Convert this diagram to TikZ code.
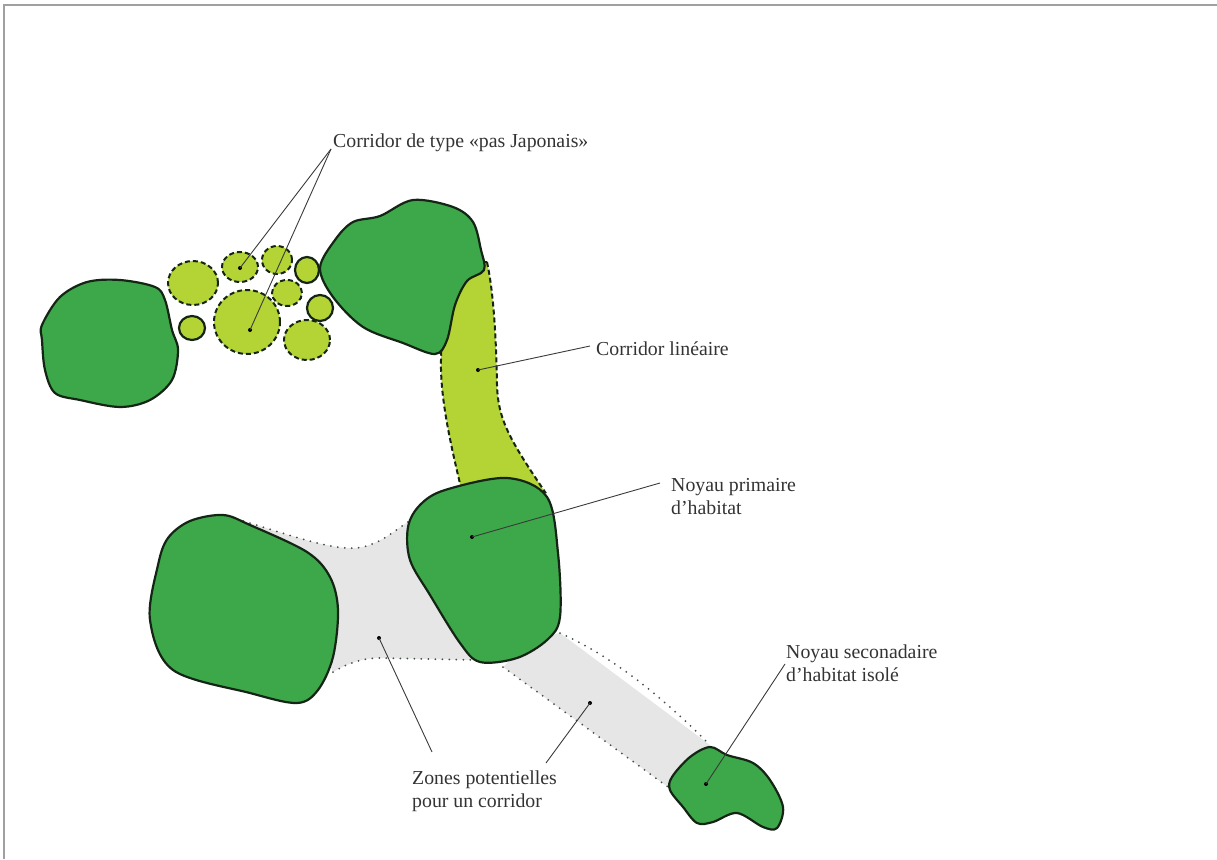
\documentclass[tikz,border=0pt]{standalone}
\usepackage{fontspec}
\setmainfont{Liberation Serif}
\definecolor{corefill}{HTML}{3DA84A}
\definecolor{stonefill}{HTML}{B4D334}
\definecolor{zonefill}{HTML}{E6E6E6}
\definecolor{edgecol}{HTML}{152515}
\definecolor{leadcol}{HTML}{3A3A3A}
\definecolor{framecol}{HTML}{A0A0A0}
\begin{document}
\begin{tikzpicture}[x=1pt,y=-1pt,
  corebox/.style={fill=corefill, draw=edgecol, line width=2.2pt, line join=round},
  stonedash/.style={fill=stonefill, draw=edgecol, line width=2pt, dash pattern=on 5pt off 3pt},
  stonesolid/.style={fill=stonefill, draw=edgecol, line width=2.2pt},
  zonearea/.style={fill=zonefill},
  zoneedge/.style={draw=edgecol!80, line width=2pt, dash pattern=on 0pt off 7pt, line cap=round},
  leader/.style={draw=leadcol, line width=0.9pt},
  dotnode/.style={circle, fill=black, inner sep=0pt, minimum size=4pt},
  lbl/.style={font=\fontsize{19.8}{23}\selectfont, text=black!80, inner sep=0pt, align=left, anchor=base west}]
\useasboundingbox (0,0) rectangle (1217,859);
% frame
\draw[framecol, line width=1.5pt] (4,859) -- (4,5) -- (1217,5);

% potential zones
\fill[zonearea] (230,517) .. controls (290,535) and (330,550) .. (357,548) .. controls (380,545) and (395,530) .. (408,522) -- (470,600) -- (475,660) -- (380,658) .. controls (360,658) and (345,665) .. (333,672) -- (300,600) -- cycle;
\fill[zonearea] (560,633) -- (710,745) -- (690,790) -- (668,787) -- (503,667) -- (530,640) -- cycle;
\draw[zoneedge] (230,517) .. controls (290,535) and (330,550) .. (357,548) .. controls (380,545) and (395,530) .. (408,522);
\draw[zoneedge] (333,672) .. controls (345,665) and (360,658) .. (380,658) -- (475,660);
\draw[zoneedge] (560,633) .. controls (620,660) and (670,705) .. (710,745);
\draw[zoneedge] (503,667) -- (668,787);

% linear corridor
\draw[stonedash] (487,262) .. controls (493,290) and (496,330) .. (497,385)
  .. controls (498,420) and (510,440) .. (545,492) -- (462,492)
  .. controls (452,450) and (440,400) .. (441,360)
  .. controls (441,340) and (445,320) .. (455,290) -- (470,262) -- cycle;

% stepping stones
\draw[stonedash] (193,283) ellipse [x radius=25pt, y radius=22pt];
\draw[stonedash] (240,267) ellipse [x radius=18pt, y radius=15pt];
\draw[stonedash] (277,260) ellipse [x radius=15pt, y radius=14pt];
\draw[stonesolid] (307,270) ellipse [x radius=12pt, y radius=13pt];
\draw[stonedash] (287,293) ellipse [x radius=15pt, y radius=13pt];
\draw[stonesolid] (320,308) ellipse [x radius=13pt, y radius=13pt];
\draw[stonesolid] (192,328) ellipse [x radius=13pt, y radius=12pt];
\draw[stonedash] (247,322) ellipse [x radius=33pt, y radius=32pt];
\draw[stonedash] (307,340) ellipse [x radius=23pt, y radius=20pt];

% cores
\draw[corebox] plot[smooth cycle, tension=0.55] coordinates {(42,325) (60,297) (87,282) (120,280) (155,287) (165,300) (172,330) (178,350) (172,380) (150,400) (120,407) (80,400) (55,393) (45,370) (42,340)};
\draw[corebox] plot[smooth cycle, tension=0.55] coordinates {(320,268) (335,240) (353,222) (380,216) (413,200) (453,207) (473,222) (481,250) (484,270) (467,281) (455,305) (447,340) (435,354) (403,343) (363,327) (333,297)};
\draw[corebox] plot[smooth cycle, tension=0.55] coordinates {(158,565) (168,538) (190,521) (223,515) (250,525) (307,552) (330,577) (338,610) (333,657) (318,690) (297,703) (250,693) (173,670) (150,620)};
\draw[corebox] plot[smooth cycle, tension=0.55] coordinates {(408,527) (420,505) (445,490) (507,478) (547,497) (558,553) (560,617) (547,640) (517,658) (480,662) (460,643) (430,595) (410,560)};
\draw[corebox] plot[smooth cycle, tension=0.55] coordinates {(690,757) (710,747) (727,755) (753,763) (770,780) (783,807) (777,828) (763,827) (737,813) (713,822) (697,823) (683,807) (670,790) (672,777)};

% dots
\node[dotnode] (dA) at (240,268) {};
\node[dotnode] (dB) at (250,330) {};
\node[dotnode] (dC) at (478,370) {};
\node[dotnode] (dD) at (472,537) {};
\node[dotnode] (dE) at (379,638) {};
\node[dotnode] (dF) at (590,703) {};
\node[dotnode] (dG) at (706,784) {};

% leader ends
\coordinate (cA) at (331,149);
\coordinate (cC) at (590,346);
\coordinate (cD) at (660,483);
\coordinate (cE) at (432,752);
\coordinate (cF) at (546,763);
\coordinate (cG) at (785,664);

\draw[leader] (dA.center) -- (cA);
\draw[leader] (dB.center) -- (cA);
\draw[leader] (dC.center) -- (cC);
\draw[leader] (dD.center) -- (cD);
\draw[leader] (dE.center) -- (cE);
\draw[leader] (dF.center) -- (cF);
\draw[leader] (dG.center) -- (cG);

% labels
\node[lbl] (lA) at (333,147) {Corridor de type «pas Japonais»};
\node[lbl] (lC) at (596,355) {Corridor linéaire};
\node[lbl] (lD) at (671,514) {Noyau primaire\\d’habitat};
\node[lbl] (lG) at (786,681) {Noyau seconadaire\\d’habitat isolé};
\node[lbl] (lE) at (412,807) {Zones potentielles\\pour un corridor};
\end{tikzpicture}
\end{document}
